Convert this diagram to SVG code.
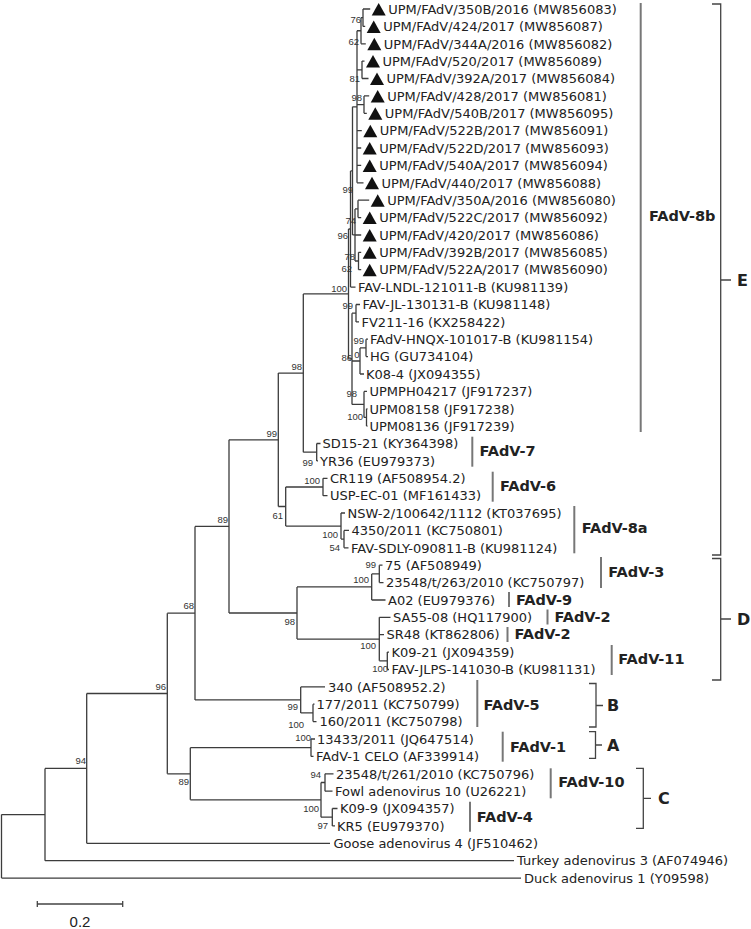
<svg xmlns="http://www.w3.org/2000/svg" width="751" height="929" viewBox="0 0 751 929">
<style>
.lf{font-family:"DejaVu Sans","Liberation Sans",sans-serif;font-size:13px;fill:#222}
.bs{font-family:"Liberation Sans",Arial,sans-serif;font-size:9.5px;fill:#333;text-anchor:end}
.cl{font-family:"DejaVu Sans","Liberation Sans",sans-serif;font-size:14.5px;font-weight:bold;fill:#222}
.gp{font-family:"DejaVu Sans","Liberation Sans",sans-serif;font-size:16px;font-weight:bold;fill:#222}
.br{stroke:#3c3c3c;stroke-width:1.3;fill:none}
.bar{stroke:#777;stroke-width:2;fill:none}
.bk{stroke:#444;stroke-width:1.3;fill:none}
.tri{fill:#111}
</style>
<defs>
<path id="tri" d="M0,6.5 L14,6.5 L7,-6 Z"/>
</defs>
<rect width="751" height="929" fill="#fff"/>
<g id="connectors" class="br">
<path d="M1.5,814.55V878.1M45,768.4V860.7M86.7,693.5V843.3M167.3,613.15V773.8M195,526.4V699.9M229,439.8V613M278.3,373.05V506.5M303.3,293.9V452.2M348.5,229V358.8M350.5,170.9V287.1M352.5,106.8V234.95M357,30.75V182.8M361,17.7V43.8M363,9V26.4M362,61.1V78.5M364,95.9V113.3M355,208.9V261M358,200.2V217.6M358.5,252.3V269.7M352,313.2V404.4M356,304.5V321.9M360,347.9V374M366,339.2V356.6M364,391.4V417.45M366.5,408.8V426.1M316.7,443.5V460.9M285.7,487V526.05M323,478.3V495.7M341,513V539.1M344,530.4V547.8M297,586.95V639.05M371.7,573.9V600M379.3,565.2V582.6M379.3,617.3V660.8M387.3,652.1V669.5M300.7,686.9V712.9M313,704.2V721.6M190.3,747.7V799.85M311,739V756.4M321,782.5V817.2M325,773.8V791.2M332.3,808.5V825.9"/>
<path d="M1.5,814.55H45M1.5,878.1H521M45,768.4H86.7M45,860.7H514M86.7,693.5H167.3M86.7,843.3H330M167.3,613.15H195M167.3,773.8H190.3M195,526.4H229M195,699.9H300.7M229,439.8H278.3M229,613H297M278.3,373.05H303.3M278.3,506.5H285.7M303.3,293.9H348.5M303.3,452.2H316.7M348.5,229H350.5M348.5,358.8H352M350.5,170.9H352.5M350.5,287.1H355.5M352.5,106.8H357M352.5,234.95H355M357,30.75H361M357,69.8H362M357,104.6H364M357,130.7H361.8M357,148H361.2M357,165.4H361.2M357,182.8H363.5M361,17.7H363M361,43.8H365.8M363,9H370.2M363,26.4H365.2M362,61.1H364.5M362,78.5H368.5M364,95.9H369.2M364,113.3H366.8M355,208.9H358M355,235H361.2M355,261H358.5M358,200.2H369.2M358,217.6H361.2M358.5,252.3H361.2M358.5,269.7H361.2M352,313.2H356M352,361H360M352,404.4H364M356,304.5H360M356,321.9H359M360,347.9H366M360,374H364M366,339.2H368M366,356.6H368M364,391.4H367M364,417.45H366.5M366.5,408.8H367.5M366.5,426.1H367.5M316.7,443.5H320.5M316.7,460.9H318M285.7,487H323M285.7,526.05H341M323,478.3H327.5M323,495.7H327.5M341,513H345M341,539.1H344M344,530.4H349M344,547.8H348.5M297,586.95H371.7M297,639.05H379.3M371.7,573.9H379.3M371.7,600H385.5M379.3,565.2H382.5M379.3,582.6H383.5M379.3,617.3H390.5M379.3,634.7H384M379.3,660.8H387.3M387.3,652.1H389M387.3,669.5H389M300.7,686.9H325M300.7,712.9H313M313,704.2H314.5M313,721.6H316.5M190.3,747.7H311M190.3,799.85H321M311,739H315M311,756.4H313.5M321,782.5H325M321,817.2H332.3M325,773.8H333.5M325,791.2H332.5M332.3,808.5H337.5M332.3,825.9H335"/>
</g>
<g id="bootstrap">
<text class="bs" x="361" y="22.5">76</text>
<text class="bs" x="359" y="44.5">62</text>
<text class="bs" x="360" y="82">81</text>
<text class="bs" x="362" y="101">98</text>
<text class="bs" x="353" y="193">99</text>
<text class="bs" x="356" y="223.5">74</text>
<text class="bs" x="348" y="238.5">96</text>
<text class="bs" x="355" y="260">78</text>
<text class="bs" x="352" y="272">62</text>
<text class="bs" x="347" y="292">100</text>
<text class="bs" x="353" y="309">99</text>
<text class="bs" x="364" y="344">99</text>
<text class="bs" x="352" y="361">86</text>
<text class="bs" x="359.5" y="357.5">0</text>
<text class="bs" x="357" y="397">98</text>
<text class="bs" x="363" y="420">100</text>
<text class="bs" x="302" y="370">98</text>
<text class="bs" x="277" y="437">99</text>
<text class="bs" x="313" y="466">99</text>
<text class="bs" x="320" y="484">100</text>
<text class="bs" x="283" y="518.5">61</text>
<text class="bs" x="338" y="538">100</text>
<text class="bs" x="340" y="551">54</text>
<text class="bs" x="228" y="523">89</text>
<text class="bs" x="194" y="609">68</text>
<text class="bs" x="166" y="689.5">96</text>
<text class="bs" x="86" y="764">94</text>
<text class="bs" x="189" y="785">89</text>
<text class="bs" x="376" y="567.5">99</text>
<text class="bs" x="369" y="583">100</text>
<text class="bs" x="295" y="625">98</text>
<text class="bs" x="376" y="648.5">100</text>
<text class="bs" x="388" y="672">100</text>
<text class="bs" x="298" y="710">99</text>
<text class="bs" x="304" y="727.5">100</text>
<text class="bs" x="311" y="741">100</text>
<text class="bs" x="321" y="777.5">94</text>
<text class="bs" x="319" y="812">100</text>
<text class="bs" x="328" y="828.5">97</text>
</g>
<g id="leaf-01"><use href="#tri" class="tri" x="371.7" y="9"/><text class="lf" x="388.2" y="13.7">UPM/FAdV/350B/2016 (MW856083)</text></g>
<g id="leaf-02"><use href="#tri" class="tri" x="366.7" y="26.4"/><text class="lf" x="383.2" y="31.1">UPM/FAdV/424/2017 (MW856087)</text></g>
<g id="leaf-03"><use href="#tri" class="tri" x="367.3" y="43.8"/><text class="lf" x="383.8" y="48.5">UPM/FAdV/344A/2016 (MW856082)</text></g>
<g id="leaf-04"><use href="#tri" class="tri" x="366" y="61.1"/><text class="lf" x="382.5" y="65.8">UPM/FAdV/520/2017 (MW856089)</text></g>
<g id="leaf-05"><use href="#tri" class="tri" x="370" y="78.5"/><text class="lf" x="386.5" y="83.2">UPM/FAdV/392A/2017 (MW856084)</text></g>
<g id="leaf-06"><use href="#tri" class="tri" x="370.7" y="95.9"/><text class="lf" x="387.2" y="100.6">UPM/FAdV/428/2017 (MW856081)</text></g>
<g id="leaf-07"><use href="#tri" class="tri" x="368.3" y="113.3"/><text class="lf" x="384.8" y="118">UPM/FAdV/540B/2017 (MW856095)</text></g>
<g id="leaf-08"><use href="#tri" class="tri" x="363.3" y="130.7"/><text class="lf" x="379.8" y="135.4">UPM/FAdV/522B/2017 (MW856091)</text></g>
<g id="leaf-09"><use href="#tri" class="tri" x="362.7" y="148"/><text class="lf" x="379.2" y="152.7">UPM/FAdV/522D/2017 (MW856093)</text></g>
<g id="leaf-10"><use href="#tri" class="tri" x="362.7" y="165.4"/><text class="lf" x="379.2" y="170.1">UPM/FAdV/540A/2017 (MW856094)</text></g>
<g id="leaf-11"><use href="#tri" class="tri" x="365" y="182.8"/><text class="lf" x="381.5" y="187.5">UPM/FAdV/440/2017 (MW856088)</text></g>
<g id="leaf-12"><use href="#tri" class="tri" x="370.7" y="200.2"/><text class="lf" x="387.2" y="204.9">UPM/FAdV/350A/2016 (MW856080)</text></g>
<g id="leaf-13"><use href="#tri" class="tri" x="362.7" y="217.6"/><text class="lf" x="379.2" y="222.3">UPM/FAdV/522C/2017 (MW856092)</text></g>
<g id="leaf-14"><use href="#tri" class="tri" x="362.7" y="235"/><text class="lf" x="379.2" y="239.7">UPM/FAdV/420/2017 (MW856086)</text></g>
<g id="leaf-15"><use href="#tri" class="tri" x="362.7" y="252.3"/><text class="lf" x="379.2" y="257">UPM/FAdV/392B/2017 (MW856085)</text></g>
<g id="leaf-16"><use href="#tri" class="tri" x="362.7" y="269.7"/><text class="lf" x="379.2" y="274.4">UPM/FAdV/522A/2017 (MW856090)</text></g>
<g id="leaf-17"><text class="lf" x="358" y="291.8">FAV-LNDL-121011-B (KU981139)</text></g>
<g id="leaf-18"><text class="lf" x="362.5" y="309.2">FAV-JL-130131-B (KU981148)</text></g>
<g id="leaf-19"><text class="lf" x="361.5" y="326.6">FV211-16 (KX258422)</text></g>
<g id="leaf-20"><text class="lf" x="370" y="343.9">FAdV-HNQX-101017-B (KU981154)</text></g>
<g id="leaf-21"><text class="lf" x="370" y="361.3">HG (GU734104)</text></g>
<g id="leaf-22"><text class="lf" x="366" y="378.7">K08-4 (JX094355)</text></g>
<g id="leaf-23"><text class="lf" x="369.5" y="396.1">UPMPH04217 (JF917237)</text></g>
<g id="leaf-24"><text class="lf" x="369.5" y="413.5">UPM08158 (JF917238)</text></g>
<g id="leaf-25"><text class="lf" x="369.5" y="430.8">UPM08136 (JF917239)</text></g>
<g id="leaf-26"><text class="lf" x="322.5" y="448.2">SD15-21 (KY364398)</text></g>
<g id="leaf-27"><text class="lf" x="320" y="465.6">YR36 (EU979373)</text></g>
<g id="leaf-28"><text class="lf" x="330" y="483">CR119 (AF508954.2)</text></g>
<g id="leaf-29"><text class="lf" x="330" y="500.4">USP-EC-01 (MF161433)</text></g>
<g id="leaf-30"><text class="lf" x="347.5" y="517.7">NSW-2/100642/1112 (KT037695)</text></g>
<g id="leaf-31"><text class="lf" x="351.5" y="535.1">4350/2011 (KC750801)</text></g>
<g id="leaf-32"><text class="lf" x="351" y="552.5">FAV-SDLY-090811-B (KU981124)</text></g>
<g id="leaf-33"><text class="lf" x="385" y="569.9">75 (AF508949)</text></g>
<g id="leaf-34"><text class="lf" x="386" y="587.3">23548/t/263/2010 (KC750797)</text></g>
<g id="leaf-35"><text class="lf" x="388" y="604.7">A02 (EU979376)</text></g>
<g id="leaf-36"><text class="lf" x="393" y="622">SA55-08 (HQ117900)</text></g>
<g id="leaf-37"><text class="lf" x="386.5" y="639.4">SR48 (KT862806)</text></g>
<g id="leaf-38"><text class="lf" x="391.5" y="656.8">K09-21 (JX094359)</text></g>
<g id="leaf-39"><text class="lf" x="391.5" y="674.2">FAV-JLPS-141030-B (KU981131)</text></g>
<g id="leaf-40"><text class="lf" x="328" y="691.6">340 (AF508952.2)</text></g>
<g id="leaf-41"><text class="lf" x="316.5" y="708.9">177/2011 (KC750799)</text></g>
<g id="leaf-42"><text class="lf" x="319.5" y="726.3">160/2011 (KC750798)</text></g>
<g id="leaf-43"><text class="lf" x="317" y="743.7">13433/2011 (JQ647514)</text></g>
<g id="leaf-44"><text class="lf" x="316" y="761.1">FAdV-1 CELO (AF339914)</text></g>
<g id="leaf-45"><text class="lf" x="336" y="778.5">23548/t/261/2010 (KC750796)</text></g>
<g id="leaf-46"><text class="lf" x="335" y="795.9">Fowl adenovirus 10 (U26221)</text></g>
<g id="leaf-47"><text class="lf" x="340" y="813.2">K09-9 (JX094357)</text></g>
<g id="leaf-48"><text class="lf" x="337" y="830.6">KR5 (EU979370)</text></g>
<g id="leaf-49"><text class="lf" x="333.5" y="848">Goose adenovirus 4 (JF510462)</text></g>
<g id="leaf-50"><text class="lf" x="517" y="865.4">Turkey adenovirus 3 (AF074946)</text></g>
<g id="leaf-51"><text class="lf" x="524" y="882.8">Duck adenovirus 1 (Y09598)</text></g>
<g id="clade-8b"><path class="bar" d="M640.7,3V432"/><text class="cl" x="649" y="220.5">FAdV-8b</text></g>
<g id="clade-7"><path class="bar" d="M472.3,436.7V466.7"/><text class="cl" x="479.5" y="456">FAdV-7</text></g>
<g id="clade-6"><path class="bar" d="M492.7,471.7V501.7"/><text class="cl" x="500" y="490.5">FAdV-6</text></g>
<g id="clade-8a"><path class="bar" d="M574.3,506V553.3"/><text class="cl" x="581.7" y="533">FAdV-8a</text></g>
<g id="clade-3"><path class="bar" d="M601,557V588"/><text class="cl" x="608.3" y="577">FAdV-3</text></g>
<g id="clade-9"><path class="bar" d="M509,592V607"/><text class="cl" x="516" y="605">FAdV-9</text></g>
<g id="clade-2a"><path class="bar" d="M547.5,609.5V624.5"/><text class="cl" x="554.5" y="622">FAdV-2</text></g>
<g id="clade-2b"><path class="bar" d="M507.5,627V642"/><text class="cl" x="514.5" y="639">FAdV-2</text></g>
<g id="clade-11"><path class="bar" d="M611.7,645V675"/><text class="cl" x="618.3" y="663.5">FAdV-11</text></g>
<g id="clade-5"><path class="bar" d="M477.3,680V727"/><text class="cl" x="483.5" y="709.5">FAdV-5</text></g>
<g id="clade-1"><path class="bar" d="M502.7,731.7V761.7"/><text class="cl" x="510" y="752">FAdV-1</text></g>
<g id="clade-10"><path class="bar" d="M550.7,768.3V798.3"/><text class="cl" x="558.3" y="787">FAdV-10</text></g>
<g id="clade-4"><path class="bar" d="M470,801.7V831.7"/><text class="cl" x="476.7" y="822">FAdV-4</text></g>
<g id="group-E"><path class="bk" d="M712,4H720.7V555H712M720.7,280H731"/><text class="gp" x="737" y="286">E</text></g>
<g id="group-D"><path class="bk" d="M712,558.5H720.7V680H712M720.7,619H731"/><text class="gp" x="737" y="625">D</text></g>
<g id="group-B"><path class="bk" d="M589,683.5H596V727H589M596,705.5H603"/><text class="gp" x="607" y="711">B</text></g>
<g id="group-A"><path class="bk" d="M589,731.7H595.5V758.3H589M595.5,745H602"/><text class="gp" x="607" y="750.5">A</text></g>
<g id="group-C"><path class="bk" d="M636,768.3H643.3V828.3H636M643.3,798.3H651"/><text class="gp" x="658" y="804">C</text></g>
<g id="scale"><path class="bk" d="M37.3,904H122.7M37.3,901V907M122.7,901V907"/><text x="80" y="927" text-anchor="middle" style="font-family:'Liberation Sans',Arial,sans-serif;font-size:15px;fill:#222">0.2</text></g>
</svg>
